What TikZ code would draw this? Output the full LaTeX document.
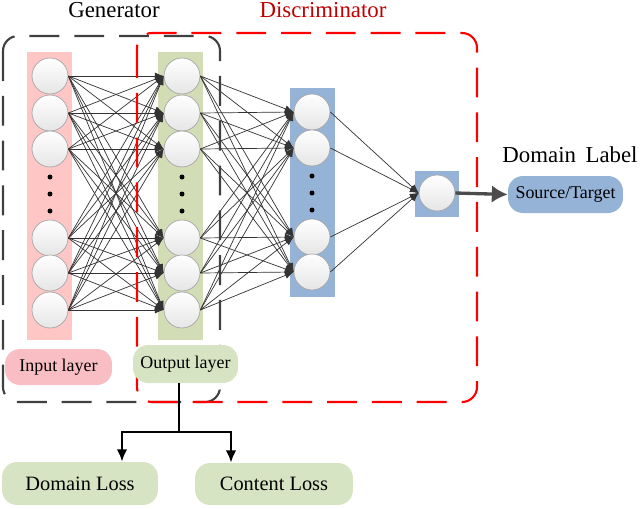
\documentclass[tikz,border=0pt]{standalone}
\usepackage{fontspec}
\setmainfont{Liberation Serif}
\usetikzlibrary{arrows.meta}

\definecolor{inpink}{HTML}{FFC6C6}
\definecolor{pillpink}{HTML}{F9BEC4}
\definecolor{outgreen}{HTML}{D2DDB6}
\definecolor{pillgreen}{HTML}{D7E4C3}
\definecolor{hidblue}{HTML}{95B3D7}
\definecolor{titlered}{HTML}{C00000}

\tikzset{
  neuron/.style={circle,draw=gray!70,top color=white,bottom color=black!10,
    inner sep=0pt,minimum size=0.72cm},
  dotnode/.style={circle,fill,inner sep=0pt,minimum size=0.1cm},
  edge/.style={black!80,line width=0.4pt,-{Latex[length=5pt,width=4pt]}},
  pill/.style={rounded corners=0.3cm,inner sep=0pt},
  title/.style={font=\fontsize{13}{15}\selectfont,anchor=base},
  tree/.style={line width=1.2pt}
}

\begin{document}
\begin{tikzpicture}[x=0.02cm,y=-0.02cm]
\useasboundingbox (0,0) rectangle (640,508);

% layer backgrounds
\fill[inpink] (27,52) rectangle (72,340);
\fill[outgreen] (158,52) rectangle (203,340);
\fill[hidblue] (290,88) rectangle (335,297);
\fill[hidblue] (415,171) rectangle (459,217);

% neurons
\foreach \n/\y in {1/76,2/113,3/149,4/238,5/273,6/310} {
  \node[neuron] (i\n) at (50,\y) {};
  \node[neuron] (o\n) at (182,\y) {};
}
\foreach \n/\y in {1/112,2/148,3/237,4/272}
  \node[neuron] (h\n) at (312,\y) {};
\node[neuron] (d) at (437,193) {};

\foreach \n/\y in {1/177,2/194,3/211} {
  \node[dotnode] (idot\n) at (50,\y) {};
  \node[dotnode] (odot\n) at (182,\y) {};
  \node[dotnode] (hdot\n) at (312,\y-1) {};
}

% connections
\foreach \a in {1,...,6}
  \foreach \b in {1,...,6}
    \draw[edge] (i\a.east) -- (o\b.west);
\foreach \a in {1,...,6}
  \foreach \b in {1,...,4}
    \draw[edge] (o\a.east) -- (h\b.west);
\foreach \a in {1,...,4}
  \draw[edge] (h\a.east) -- (d.west);

% generator and discriminator
\draw[black!75,line width=1.2pt,dash pattern=on 17pt off 8.5pt,rounded corners=0.3cm]
  (3,36) rectangle (220,402);
\draw[red,line width=1.2pt,dash pattern=on 17pt off 8.5pt,rounded corners=0.3cm]
  (137,33) rectangle (477,402);

\node[title] (gen) at (114,17) {Generator};
\node[title,text=titlered] (dis) at (323,17) {Discriminator};
\node[title] (lab) at (570,162) {Domain\, Label};

% labels
\node[pill,fill=pillpink,minimum width=2.14cm,minimum height=0.72cm,
  font=\fontsize{10.2}{12}\selectfont] (inl) at (58.5,367) {Input layer};
\node[pill,fill=pillgreen,minimum width=2.1cm,minimum height=0.76cm,
  font=\fontsize{10.2}{12}\selectfont] (outl) at (185.5,364) {Output layer};
\node[pill,fill=hidblue,minimum width=2.3cm,minimum height=0.74cm,
  font=\fontsize{10.2}{12}\selectfont] (st) at (565.5,194.5) {Source/Target};
\node[pill,fill=pillgreen,minimum width=3.12cm,minimum height=0.86cm,
  font=\fontsize{11.6}{14}\selectfont] (dloss) at (80,483.5) {Domain Loss};
\node[pill,fill=pillgreen,minimum width=3.16cm,minimum height=0.84cm,
  font=\fontsize{11.6}{14}\selectfont] (closs) at (274,484) {Content Loss};

\draw[black!70,line width=1.9pt,-{Latex[length=9pt,width=10pt]}] (d.east) -- (st.west);

% losses
\coordinate (fork) at (179,432);
\coordinate (forkl) at (122,432);
\coordinate (forkr) at (231,432);
\draw[tree] (outl.south -| fork) -- (fork);
\draw[tree,-{Latex[length=7pt,width=6pt]}] (fork) -- (forkl) -- (forkl |- dloss.north);
\draw[tree,-{Latex[length=7pt,width=6pt]}] (fork) -- (forkr) -- (forkr |- closs.north);

\end{tikzpicture}
\end{document}
